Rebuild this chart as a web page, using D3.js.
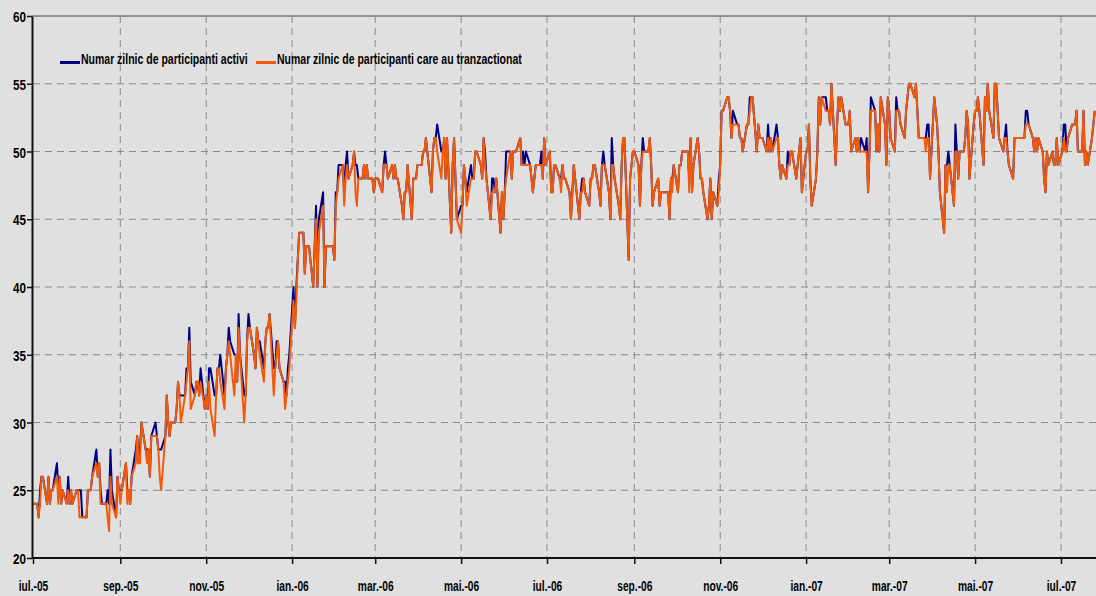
<!DOCTYPE html>
<html>
<head>
<meta charset="utf-8">
<script src="https://cdn.jsdelivr.net/npm/d3@7/dist/d3.min.js"></script>
<style>
    body { margin: 0; background: #e0e0e0; }
    svg { display: block; }
</style>
</head>
<body>
<div id="vis"></div>
<script>
const seriesNames = ['Numar zilnic de participanti activi', 'Numar zilnic de participanti care au tranzactionat'];
const seriesColors = ['#000080', '#f05a0a'];

const xTickLabels = ['iul.-05', 'sep.-05', 'nov.-05', 'ian.-06', 'mar.-06', 'mai.-06', 'iul.-06',
    'sep.-06', 'nov.-06', 'ian.-07', 'mar.-07', 'mai.-07', 'iul.-07'];
const yTicks = [20, 25, 30, 35, 40, 45, 50, 55, 60];

// one value per trading day, one line per month (iul.-05 ... iul.-07)
const activi = [
    24,24,23,25,26,26,24,26,24,25,25,27,25,26,24,25,24,26,24,25,24,
    25,25,25,25,23,23,25,25,25,26,28,26,27,25,24,24,25,24,28,25,23,26,25,
    25,25,27,25,25,24,26,28,29,27,28,30,28,28,28,26,29,30,29,28,28,28,
    29,32,30,29,30,30,31,33,32,32,32,34,34,37,33,32,33,33,32,34,31,
    32,31,34,34,32,32,34,34,35,32,34,35,37,36,35,35,33,38,35,32,32,36,
    38,37,35,34,37,36,36,34,36,37,37,38,34,34,36,36,34,33,33,32,34,35,
    40,37,40,42,44,44,41,43,43,43,40,43,46,40,45,47,40,43,43,43,43,42,
    47,47,49,49,47,49,50,48,49,50,49,49,48,48,49,48,49,48,48,47,
    48,48,48,47,49,50,49,48,49,48,49,48,48,46,45,47,47,49,45,48,48,48,49,
    49,50,50,51,50,47,50,51,51,52,50,50,51,48,51,44,49,51,48,45,
    46,46,49,48,47,49,48,48,50,50,49,48,51,50,48,45,48,48,47,48,44,47,45,
    47,50,50,48,50,50,50,51,49,50,49,50,49,48,47,48,49,49,50,48,51,49,
    50,47,47,49,49,48,48,49,48,48,47,45,47,49,48,45,47,48,48,47,46,
    48,48,49,49,47,46,49,50,49,47,45,51,49,48,46,45,49,51,51,42,48,49,50,
    50,49,46,49,51,50,50,51,49,46,47,48,46,47,47,47,47,45,48,48,49,
    47,49,49,50,50,50,48,51,47,49,51,50,48,48,47,45,46,48,45,47,46,48,
    49,53,53,54,54,53,51,53,52,52,51,51,50,52,52,54,54,54,50,52,51,51,
    51,50,52,50,51,50,52,51,49,48,49,48,50,49,50,50,48,49,50,51,47,
    50,50,52,48,46,48,50,54,52,54,54,53,53,52,55,49,52,54,53,54,52,52,52,
    53,50,51,50,51,50,51,50,51,47,50,54,53,50,52,50,54,52,49,54,
    53,51,50,54,53,53,52,51,53,54,55,55,54,55,53,51,51,51,51,52,52,48,
    54,53,52,50,47,44,49,49,50,49,46,52,50,48,50,50,51,53,52,48,52,
    53,53,54,53,49,54,53,55,53,51,55,55,53,51,50,51,52,50,49,48,51,51,51,
    51,51,51,53,53,52,51,50,51,50,51,50,48,47,50,49,50,49,49,51,49,
    50,52,52,50,51,52,52,52,53,50,50,53,49,50,49,51,52,53
];

const tranzactionat = [
    24,24,23,24,26,26,24,26,24,25,25,26,24,26,24,25,24,25,24,25,24,
    25,25,23,23,23,23,25,25,25,26,27,26,27,24,24,24,23,22,26,24,23,26,25,
    24,25,27,24,25,24,26,27,29,27,27,30,28,27,28,26,29,29,29,28,26,25,
    29,32,30,29,30,30,31,33,32,30,32,33,34,36,31,32,33,33,32,33,31,
    32,31,33,31,29,32,34,34,33,31,34,35,36,35,32,35,33,37,35,30,32,36,
    37,37,35,34,37,36,35,33,36,37,37,38,32,34,35,36,34,33,31,32,33,34,
    39,37,39,42,44,44,41,43,43,43,40,43,45,40,44,46,40,43,43,43,43,42,
    46,47,48,49,46,48,49,48,49,50,47,46,48,48,49,48,49,48,48,47,
    48,48,48,47,49,49,49,48,49,48,49,48,48,46,45,47,47,49,45,48,48,48,49,
    49,50,50,51,50,47,50,51,51,50,48,50,51,48,51,44,49,51,48,45,
    44,46,49,48,46,48,48,48,50,50,49,48,51,49,48,45,47,47,47,48,44,47,45,
    47,48,50,48,50,50,50,51,49,49,49,49,49,48,47,48,49,49,49,48,51,49,
    50,47,47,49,49,48,47,49,48,48,47,45,47,49,48,45,47,47,48,47,46,
    48,48,49,49,47,46,49,49,49,47,45,49,49,48,46,45,49,51,51,42,48,49,50,
    50,49,46,49,50,50,50,51,49,46,47,48,46,47,47,47,47,45,48,47,49,
    47,49,49,50,50,50,47,51,47,49,51,50,48,48,47,45,46,48,45,47,46,47,
    49,53,53,54,54,53,51,52,52,52,51,51,50,52,52,53,54,54,50,52,51,51,
    51,50,51,50,51,50,51,51,49,48,49,48,49,49,50,50,48,49,50,51,47,
    50,50,52,48,46,48,50,54,52,54,53,53,53,52,55,49,52,54,53,54,52,52,52,
    53,50,51,50,51,50,50,50,50,47,50,53,53,50,52,50,54,52,49,54,
    53,51,50,53,53,53,52,51,53,54,55,55,54,55,53,51,51,51,50,51,51,48,
    54,53,52,50,47,44,49,47,49,49,46,50,50,48,50,50,51,53,52,48,52,
    53,53,54,53,49,54,53,55,53,51,55,55,53,51,50,51,51,50,49,48,51,51,51,
    51,51,51,52,52,52,51,50,51,50,51,50,48,47,50,49,50,49,49,51,49,
    50,51,50,50,51,52,52,52,53,50,50,53,49,50,49,51,52,53
];

const width = 1096;
const height = 596;
const font = "'Liberation Sans', Arial, sans-serif";

// trading days (Mon-Fri) from 1 iul. 2005
const tradingDays = d3.timeDay.range(new Date(2005, 6, 1), new Date(2007, 8, 1))
    .filter(d => d.getDay() !== 0 && d.getDay() !== 6);
const points = activi.map((v, i) => ({date: tradingDays[i], activi: v, tranz: tranzactionat[i]}));

const x = d3.scaleTime()
    .domain([new Date(2005, 6, 1), new Date(2007, 6, 1)])
    .range([33, 1061]);
const y = d3.scaleLinear()
    .domain([20, 60])
    .range([558, 16]);

const tickDates = xTickLabels.map((l, i) => new Date(2005, 6 + i * 2, 1));

const svg = d3.select('#vis')
    .append('svg')
    .attr('width', width)
    .attr('height', height);

svg.append('rect')
    .attr('width', width)
    .attr('height', height)
    .attr('fill', '#e0e0e0');

// grid
svg.append('g')
    .selectAll('line')
    .data(yTicks.slice(1, -1))
    .join('line')
    .attr('x1', 33)
    .attr('x2', width)
    .attr('y1', d => y(d))
    .attr('y2', d => y(d))
    .attr('stroke', '#8a8a8a')
    .attr('stroke-width', 1)
    .attr('stroke-dasharray', '7,5');

svg.append('g')
    .selectAll('line')
    .data(tickDates.slice(1))
    .join('line')
    .attr('x1', d => x(d))
    .attr('x2', d => x(d))
    .attr('y1', 16)
    .attr('y2', 558)
    .attr('stroke', '#8a8a8a')
    .attr('stroke-width', 1)
    .attr('stroke-dasharray', '7,5');

svg.append('line')
    .attr('x1', 32)
    .attr('x2', width)
    .attr('y1', 16)
    .attr('y2', 16)
    .attr('stroke', '#777')
    .attr('stroke-width', 1.5);

// series
const keys = ['activi', 'tranz'];
keys.forEach((k, i) => {
    svg.append('path')
        .datum(points)
        .attr('fill', 'none')
        .attr('stroke', seriesColors[i])
        .attr('stroke-width', 2)
        .attr('stroke-linejoin', 'round')
        .attr('d', d3.line().x(d => x(d.date)).y(d => y(d[k])));
});

// axes (text is set small and stretched vertically to get the tall, narrow look)
const xAxis = svg.append('g')
    .attr('transform', 'translate(0,558)')
    .call(d3.axisBottom(x).tickValues(tickDates).tickFormat((d, i) => xTickLabels[i]).tickSize(6).tickSizeOuter(0));
xAxis.select('.domain').remove();
xAxis.append('line')
    .attr('x1', 32)
    .attr('x2', width)
    .attr('stroke', '#111')
    .attr('stroke-width', 2);
xAxis.selectAll('.tick line').attr('stroke', '#111').attr('stroke-width', 1.5);
xAxis.selectAll('.tick text')
    .attr('y', 0)
    .attr('dy', 0)
    .attr('transform', 'translate(0,33) scale(1,1.47)')
    .attr('fill', '#000')
    .attr('font-family', font)
    .attr('font-size', '10.2px')
    .attr('font-weight', 'bold');

const yAxis = svg.append('g')
    .attr('transform', 'translate(32,0)')
    .call(d3.axisLeft(y).tickValues(yTicks).tickSize(5).tickSizeOuter(0));
yAxis.select('.domain').attr('stroke', '#111').attr('stroke-width', 2);
yAxis.selectAll('.tick line').attr('stroke', '#111').attr('stroke-width', 1.5);
yAxis.selectAll('.tick text')
    .attr('x', 0)
    .attr('y', 0)
    .attr('dy', 0)
    .attr('transform', 'translate(-6,5.5) scale(1,1.28)')
    .attr('fill', '#000')
    .attr('font-family', font)
    .attr('font-size', '11.7px')
    .attr('font-weight', 'bold');

// legend
const legendX = [60, 256];
seriesNames.forEach((name, i) => {
    svg.append('line')
        .attr('x1', legendX[i])
        .attr('x2', legendX[i] + 20)
        .attr('y1', 62.5)
        .attr('y2', 62.5)
        .attr('stroke', seriesColors[i])
        .attr('stroke-width', 3);
    svg.append('text')
        .attr('transform', 'translate(' + (legendX[i] + 21) + ',64) scale(1,1.43)')
        .attr('fill', '#000')
        .attr('font-family', font)
        .attr('font-size', '10.5px')
        .attr('font-weight', 'bold')
        .text(name);
});
</script>
</body>
</html>
